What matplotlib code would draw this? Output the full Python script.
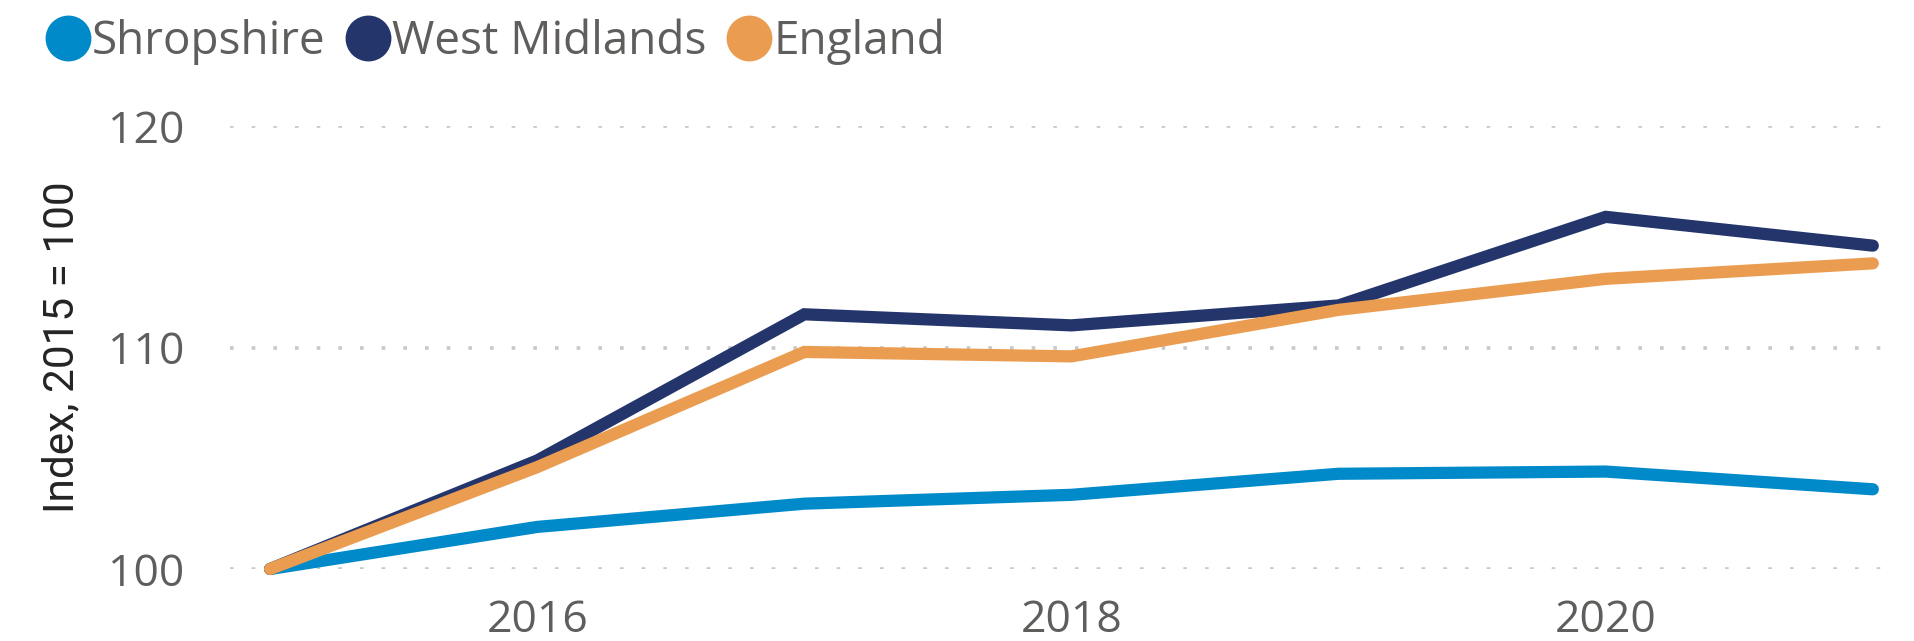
import matplotlib.pyplot as plt
from matplotlib.lines import Line2D

# index values, 2015 = 100
years = [2015, 2016, 2017, 2018, 2019, 2020, 2021]
shropshire = [100.0, 101.9, 102.95, 103.35, 104.3, 104.4, 103.6]
west_midlands = [100.0, 104.9, 111.5, 111.0, 111.9, 115.9, 114.6]
england = [100.0, 104.6, 109.8, 109.6, 111.7, 113.1, 113.8]

series_names = ["Shropshire", "West Midlands", "England"]
colors = ["#008AC9", "#24356C", "#EA9D51"]
x_ticks = [2016, 2018, 2020]
y_ticks = [100, 110, 120]

tick_grey = "#605E5C"

fig = plt.figure(figsize=(19.15, 6.41), dpi=100)
fig.patch.set_facecolor("white")
ax = fig.add_axes([0.1201, 0.1123, 0.8668, 0.6911])

for vals, col in zip([shropshire, west_midlands, england], colors):
    ax.plot(years, vals, color=col, lw=8.8, solid_capstyle="round",
            solid_joinstyle="miter", clip_on=False, zorder=3)

ax.set_xlim(2014.85, 2021.064)
ax.set_ylim(100, 120)
ax.set_xticks(x_ticks)
ax.set_yticks(y_ticks)

for s in ax.spines.values():
    s.set_visible(False)

ax.yaxis.grid(True, color="#C8C8C8", lw=2.6, linestyle=(0, (1, 5)))
ax.xaxis.grid(False)
ax.set_axisbelow(True)

ax.tick_params(axis="both", length=0, labelcolor=tick_grey, labelsize=32)
ax.tick_params(axis="y", pad=33)
ax.tick_params(axis="x", pad=21)
for lab in ax.get_xticklabels() + ax.get_yticklabels():
    lab.set_fontfamily("Open Sans")

fig.text(62 / 1915, 0.458, "Index, 2015 = 100", rotation=90,
         ha="center", va="center", fontsize=30.5, color="#252423",
         family="Roboto")

handles = [Line2D([], [], marker="o", linestyle="", markersize=32,
                  markerfacecolor=c, markeredgecolor=c) for c in colors]
fig.legend(handles, series_names, loc="upper left",
           bbox_to_anchor=(0.017, 1.0), ncol=3, frameon=False,
           prop={"family": "Open Sans", "size": 33},
           labelcolor=tick_grey, handlelength=0.75, handletextpad=0.15,
           columnspacing=0.55, borderaxespad=0)

plt.savefig("out.png", dpi=100, facecolor=fig.get_facecolor())
plt.close()
